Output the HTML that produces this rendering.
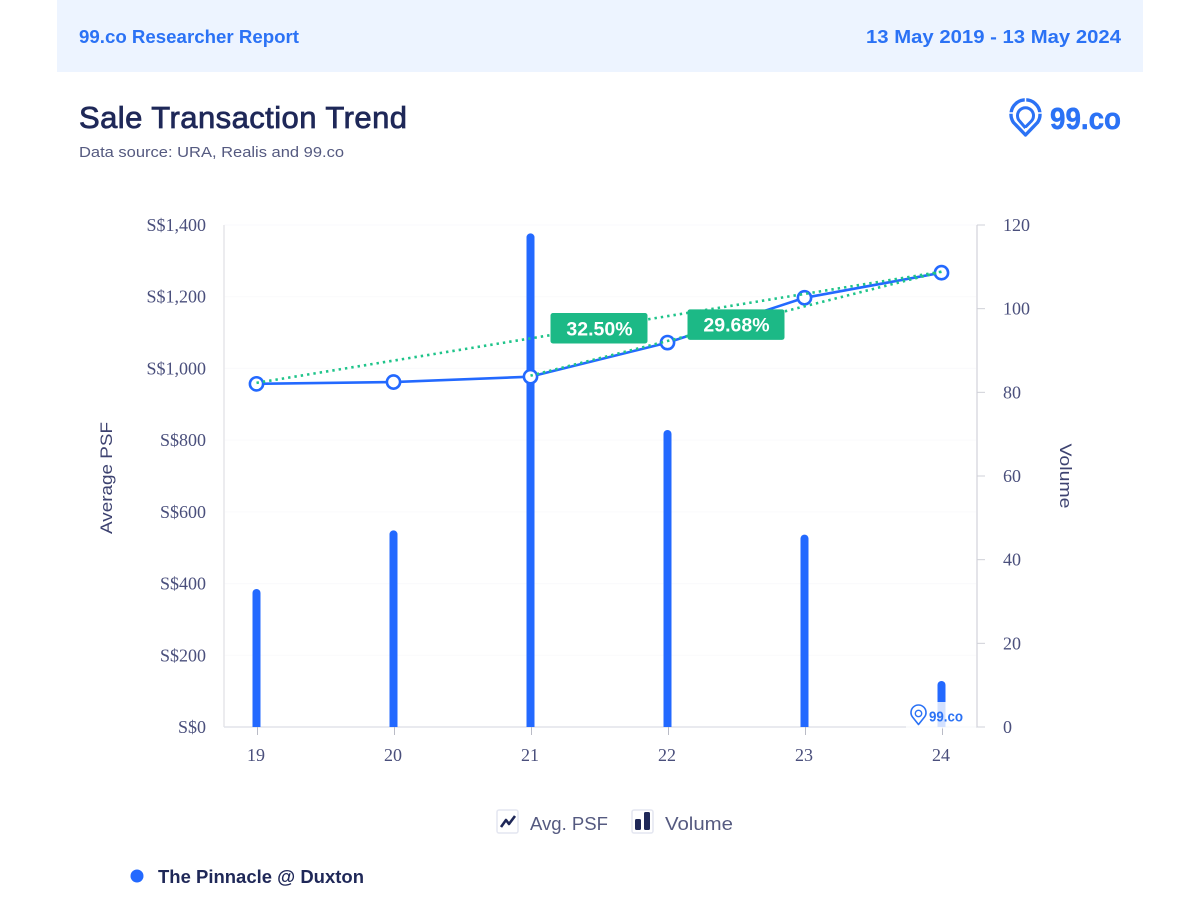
<!DOCTYPE html>
<html lang="en">
<head>
<meta charset="utf-8">
<title>Sale Transaction Trend</title>
<style>
html,body{margin:0;padding:0;background:#fff;}
body{width:1200px;height:900px;overflow:hidden;position:relative;}
svg{display:block;position:absolute;left:0;top:0;}
.ui{font-family:"Liberation Sans",sans-serif;}
.ax{font-family:"Liberation Serif",serif;font-size:18px;fill:#4a4f7c;}
</style>
</head>
<body>
<svg id="chart" width="1200" height="900" viewBox="0 0 1200 900" xmlns="http://www.w3.org/2000/svg">
  <rect x="57" y="0" width="1086" height="72" fill="#edf4ff"/>
  <text class="ui" x="79" y="43" font-size="18.5" font-weight="700" fill="#2b72f5" textLength="220" lengthAdjust="spacingAndGlyphs">99.co Researcher Report</text>
  <text class="ui" x="866" y="43" font-size="18.5" font-weight="700" fill="#2b72f5" textLength="255" lengthAdjust="spacingAndGlyphs">13 May 2019 - 13 May 2024</text>
  <text class="ui" x="79" y="128" font-size="31" fill="#1f2858" stroke="#1f2858" stroke-width="0.8" textLength="328" lengthAdjust="spacing">Sale Transaction Trend</text>
  <text class="ui" x="79" y="157" font-size="15" fill="#555a80" textLength="265" lengthAdjust="spacingAndGlyphs">Data source: URA, Realis and 99.co</text>

  <g>
    <path d="M1025.500 135 L1013.500 122.500 A14.500 14.500 0 1 1 1037.500 122.500 Z" fill="none" stroke="#2b72f5" stroke-width="3.400" stroke-linejoin="round"/>
    <path d="M1025.500 128 L1020 121.500 A8 8 0 1 1 1031 121.500 L1025.500 127" fill="none" stroke="#2b72f5" stroke-width="3" stroke-linejoin="round"/>
    <line x1="1009" y1="113" x2="1015" y2="113" stroke="#fff" stroke-width="1.500"/>
    <line x1="1036" y1="113" x2="1042" y2="113" stroke="#fff" stroke-width="1.500"/>
    <line x1="1025.500" y1="96" x2="1025.500" y2="102" stroke="#fff" stroke-width="1.500"/>
    <text class="ui" x="1050" y="129" font-size="31" font-weight="700" fill="#2b72f5" stroke="#2b72f5" stroke-width="0.5" textLength="71" lengthAdjust="spacingAndGlyphs">99.co</text>
  </g>

  <g id="grid"></g>
  <g id="axes"></g>
  <g id="bars"></g>
  <g id="watermark">
    <rect x="906" y="702" width="70" height="26.500" fill="#fff" fill-opacity="0.8"/>
    <path d="M918.500 724.500 L912.500 717 A7.500 7.500 0 1 1 924.500 717 Z" fill="none" stroke="#2b72f5" stroke-width="1.600" stroke-linejoin="round"/>
    <circle cx="918.500" cy="713.500" r="3.200" fill="none" stroke="#2b72f5" stroke-width="1.400"/>
    <text class="ui" x="929" y="721.500" font-size="15" font-weight="700" fill="#2b72f5" textLength="34" lengthAdjust="spacingAndGlyphs">99.co</text>
  </g>
  <g id="line"></g>
  <g id="trends"></g>
  <g id="labels"></g>

  <text class="ui" transform="translate(112,478) rotate(-90)" text-anchor="middle" font-size="17" fill="#3d4270" textLength="112" lengthAdjust="spacingAndGlyphs">Average PSF</text>
  <text class="ui" transform="translate(1060,476) rotate(90)" text-anchor="middle" font-size="17" fill="#3d4270" textLength="65" lengthAdjust="spacingAndGlyphs">Volume</text>

  <g>
    <rect x="497" y="810" width="21" height="23" rx="2" fill="#fff" stroke="#e4e6f0" stroke-width="1.500"/>
    <path d="M501 827 L506 820 L509 824 L515 816" fill="none" stroke="#1f2858" stroke-width="2.600" stroke-linejoin="round"/>
    <text class="ui" x="530" y="830" font-size="18.500" fill="#555a80" textLength="78" lengthAdjust="spacingAndGlyphs">Avg. PSF</text>
  </g>
  <g>
    <rect x="632" y="810" width="21" height="23" rx="2" fill="#fff" stroke="#e4e6f0" stroke-width="1.500"/>
    <rect x="635" y="819" width="6" height="11" rx="1.500" fill="#1f2858"/>
    <rect x="644" y="812" width="6" height="18" rx="1.500" fill="#1f2858"/>
    <text class="ui" x="665" y="830" font-size="18.500" fill="#555a80" textLength="68" lengthAdjust="spacingAndGlyphs">Volume</text>
  </g>

  <circle cx="137" cy="876" r="6.500" fill="#2369ff"/>
  <text class="ui" x="158" y="883" font-size="18.500" font-weight="700" fill="#1f2858" textLength="206" lengthAdjust="spacingAndGlyphs">The Pinnacle @ Duxton</text>
</svg>
<script>
const categories = ['19', '20', '21', '22', '23', '24'];
const avgPsf = [957, 962, 977, 1072, 1197, 1267];
const volume = [33, 47, 118, 71, 46, 11];
const psfTicks = [0, 200, 400, 600, 800, 1000, 1200, 1400];
const psfTickLabels = ['S$0', 'S$200', 'S$400', 'S$600', 'S$800', 'S$1,000', 'S$1,200', 'S$1,400'];
const volumeTicks = [0, 20, 40, 60, 80, 100, 120];
const growthFromIndex = [0, 2];
const growthLabels = ['32.50%', '29.68%'];

const NS = 'http://www.w3.org/2000/svg';
const plotLeft = 224, plotRight = 977, plotTop = 225, plotBottom = 727;
const firstX = 256.5, stepX = 137;
const psfMax = psfTicks[psfTicks.length - 1];
const volumeMax = volumeTicks[volumeTicks.length - 1];
const xScale = i => firstX + i * stepX;
const yPsf = v => plotBottom - (v / psfMax) * (plotBottom - plotTop);
const yVol = v => plotBottom - (v / volumeMax) * (plotBottom - plotTop);

function mk(tag, attrs, parent, text) {
  const el = document.createElementNS(NS, tag);
  for (const k in attrs) el.setAttribute(k, attrs[k]);
  if (text !== undefined) el.textContent = text;
  parent.appendChild(el);
  return el;
}

const grid = document.getElementById('grid');
const axes = document.getElementById('axes');
const bars = document.getElementById('bars');
const trends = document.getElementById('trends');
const line = document.getElementById('line');
const labels = document.getElementById('labels');

psfTicks.forEach((t, i) => {
  const y = yPsf(t);
  if (t > 0) {
    const g = mk('line', {x1: plotLeft, x2: plotRight, y1: y, y2: y, stroke: '#fafafc', 'stroke-width': 1}, grid);
    
    
  }
  const lab = mk('text', {class: 'ax', x: 206, y: y + 6, 'text-anchor': 'end'}, axes, psfTickLabels[i]);
  
  
});

const leftAxis = mk('line', {x1: plotLeft, x2: plotLeft, y1: plotTop, y2: plotBottom, stroke: '#e6e6ea', 'stroke-width': 1.5}, axes);


const rightAxis = mk('line', {x1: plotRight, x2: plotRight, y1: plotTop, y2: plotBottom, stroke: '#dcdce2', 'stroke-width': 1.5}, axes);


const xAxis = mk('line', {x1: plotLeft, x2: plotRight, y1: plotBottom, y2: plotBottom, stroke: '#e2e3ea', 'stroke-width': 1.5}, axes);



volumeTicks.forEach(t => {
  const y = yVol(t);
  const tick = mk('line', {x1: plotRight, x2: plotRight + 8, y1: y, y2: y, stroke: '#cfd0d8', 'stroke-width': 1}, axes);
  
  
  const lab = mk('text', {class: 'ax', x: 1003, y: y + 6, 'text-anchor': 'start'}, axes, String(t));
  
  
});

categories.forEach((c, i) => {
  const x = xScale(i);
  const tick = mk('line', {x1: x + 1, x2: x + 1, y1: plotBottom, y2: plotBottom + 8, stroke: '#b9bbc6', 'stroke-width': 1}, axes);
  
  
  const lab = mk('text', {class: 'ax', x: x - 0.5, y: 761, 'text-anchor': 'middle'}, axes, c);
  
  

  const top = yVol(volume[i]);
  const w = 8;
  const r = 4;
  const bar = mk('path', {
    d: 'M' + (x - w / 2) + ' ' + plotBottom + 'V' + (top + r) +
       'A' + r + ' ' + r + ' 0 0 1 ' + (x + w / 2) + ' ' + (top + r) + 'V' + plotBottom + 'Z',
    fill: '#2369ff'
  }, bars);
  
  
});

const last = categories.length - 1;

const psfPath = mk('polyline', {
  points: avgPsf.map((v, i) => xScale(i) + ',' + yPsf(v)).join(' '),
  fill: 'none', stroke: '#2369ff', 'stroke-width': 2.6, 'stroke-linejoin': 'round'
}, line);



avgPsf.forEach((v, i) => {
  const p = mk('circle', {cx: xScale(i), cy: yPsf(v), r: 6.6, fill: '#fff', stroke: '#2369ff', 'stroke-width': 2.6}, line);
  
  
});

growthFromIndex.forEach(start => {
  const t = mk('line', {
    x1: xScale(start), y1: yPsf(avgPsf[start]) - 1, x2: xScale(last), y2: yPsf(avgPsf[last]) - 1,
    stroke: '#1fc48a', 'stroke-width': 2.6, 'stroke-dasharray': '2.4 4'
  }, trends);
  
  
});

growthFromIndex.forEach((start, i) => {
  const cx = (xScale(start) + xScale(last)) / 2;
  const cy = (yPsf(avgPsf[start]) + yPsf(avgPsf[last])) / 2;
  const box = mk('rect', {x: cx - 48.5, y: cy - 15.3, width: 97, height: 30.5, rx: 2.5, fill: '#1cb986'}, labels);
  
  
  const txt = mk('text', {class: 'ui', x: cx + 0.5, y: cy + 7, 'text-anchor': 'middle', 'font-size': 19.5, 'font-weight': 700, fill: '#fff'}, labels, growthLabels[i]);
  
  
});
</script>
</body>
</html>
